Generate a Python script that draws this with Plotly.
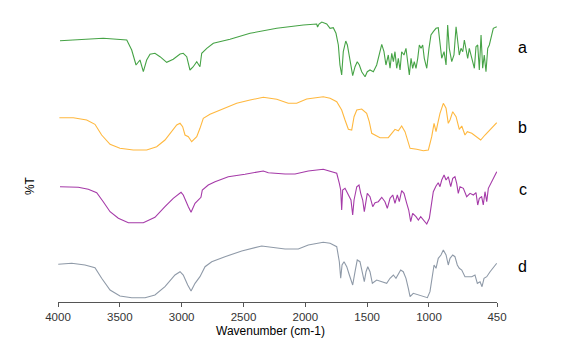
import plotly.graph_objects as go

# Wavenumbers (cm-1) and stacked %T values (arbitrary offset units)
wn_a = [3984, 3634, 3444, 3404, 3369, 3357, 3337, 3310, 3283, 3256, 3216, 3175, 3121, 3068, 3013, 2987,
        2959, 2933, 2908, 2878, 2852, 2838, 2797, 2744, 2609, 2447, 2231, 2016, 1908, 1901, 1889, 1867,
        1827, 1800, 1774, 1752, 1733, 1720, 1706, 1693, 1673, 1660, 1647, 1633, 1617, 1598, 1580, 1563,
        1544, 1517, 1499, 1477, 1450, 1423, 1402, 1382, 1364, 1348, 1329, 1315, 1301, 1288, 1275, 1261,
        1248, 1234, 1221, 1202, 1186, 1172, 1159, 1145, 1132, 1119, 1105, 1091, 1078, 1064, 1051, 1038,
        1018, 1000, 984, 965, 943, 925, 911, 897, 878, 862, 849, 836, 816, 798, 781, 768, 755, 741, 727,
        714, 701, 687, 674, 660, 646, 633, 620, 606, 593, 579, 566, 553, 539, 525, 512, 498, 480, 452]
t_a = [261.3, 263.7, 262, 252, 237, 239, 242, 230.3, 242, 247.7, 248.7, 245.3, 239.7, 242.7, 248, 248.7,
       245.3, 232, 235, 240.3, 235.3, 248.7, 253.7, 258.7, 262.7, 268.7, 273.7, 277, 278, 275, 278, 280,
       278, 273.7, 274.3, 268.7, 257, 237, 227, 250.3, 261, 257, 247, 237, 226.3, 235.3, 240.3, 237,
       230.3, 225.3, 230.3, 232, 230.3, 237, 247, 257.7, 250.3, 237, 247, 233.7, 248.7, 240.3, 250.3, 233.7,
       243.7, 232, 250.3, 247, 253.7, 240.3, 227, 243.7, 233.7, 240.3, 233.7, 243.7, 257, 253.7, 257, 243.7,
       233.7, 253.7, 267, 270.3, 273.7, 274.3, 260.3, 243.7, 250.3, 237, 277, 253.7, 240.3, 247, 275.3, 263.7, 247, 253.7, 250.3,
       262, 253.7, 243.7, 253.7, 247, 240.3, 233.7, 255.3, 257, 232, 267, 233.7, 247, 230.3, 253.7, 257, 263.7, 273.7, 275.3]

wn_b = [3989, 3876, 3768, 3701, 3647, 3579, 3499, 3391, 3283, 3202, 3135, 3081, 3040, 3013, 2992, 2973,
        2946, 2919, 2878, 2852, 2825, 2771, 2663, 2555, 2447, 2340, 2231, 2138, 2070, 1989, 1855, 1800,
        1746, 1706, 1679, 1652, 1625, 1606, 1584, 1544, 1504, 1483, 1463, 1436, 1396, 1329, 1301, 1275,
        1248, 1221, 1194, 1175, 1153, 1099, 1046, 1005, 978, 959, 943, 929, 911, 884, 862, 844, 830, 808,
        781, 755, 735, 709, 690, 654, 614, 582, 547, 506, 452]
t_b = [184.3, 184.3, 182, 177.7, 167, 157.7, 153.7, 152, 152, 155.3, 162, 170.3, 177, 178.7, 175.3, 167,
       165.3, 160.3, 165.3, 173.7, 183.7, 187.7, 193, 198.7, 202, 204.7, 202.7, 198.7, 198.7, 203, 205.3, 203.7,
       200.3, 192, 182, 172.7, 172, 185.3, 192, 193, 188.7, 180.3, 168.7, 167, 164.3, 164.3, 168.7, 172.7,
       171.3, 176, 170.3, 162, 153.7, 152.7, 151.3, 152, 165.3, 178.7, 170.3, 178.7, 188.7, 198.7, 193.7, 178.7, 182, 190.3,
       185.3, 172.7, 176, 167, 170.3, 168.7, 165.3, 162, 167, 172, 179.3]

wn_c = [3984, 3836, 3755, 3687, 3634, 3579, 3512, 3431, 3310, 3216, 3135, 3068, 3005, 2987, 2946, 2924,
        2892, 2844, 2833, 2785, 2730, 2623, 2488, 2340, 2299, 2164, 2083, 1976, 1855, 1800, 1746, 1725,
        1714, 1706, 1698, 1679, 1660, 1644, 1631, 1617, 1606, 1584, 1566, 1552, 1536, 1523, 1509, 1499,
        1477, 1455, 1436, 1410, 1382, 1356, 1337, 1315, 1293, 1275, 1256, 1240, 1221, 1202, 1180, 1164,
        1148, 1132, 1105, 1086, 1067, 1046, 1018, 997, 978, 965, 943, 925, 911, 897, 878, 862, 844, 824,
        808, 790, 776, 763, 749, 722, 695, 668, 641, 620, 606, 593, 574, 561, 547, 533, 520, 493, 452]
t_c = [115.3, 114.7, 112.7, 109.3, 100.3, 90.3, 83.7, 79.3, 79.3, 84.7, 95.3, 103.7, 109.7, 107, 95.3, 89.7,
       98.7, 104.7, 112, 117, 120.3, 125.3, 127.7, 131, 129.3, 128, 128, 131, 132.7, 130.3, 128.7, 118.7,
       112, 92, 112, 113.7, 108.7, 105.3, 102, 87, 102, 115.3, 117, 108.7, 102, 90.3, 102, 108.7,
       105.3, 95.3, 99.3, 100.3, 104.7, 100.3, 93.7, 103.7, 107, 98.7, 107, 100.3, 111.3, 108.7, 98.7, 92,
       80.3, 88.7, 85.3, 82, 85.3, 82, 78, 83.7, 98.7, 110.3, 116, 119.3, 115.3, 122, 127, 122, 125.3, 115.3,
       123.7, 125.3, 118.7, 108.7, 115.3, 113.7, 105.3, 108.7, 107, 109.3, 97, 103.7, 105.3, 97, 110.3, 100.3, 113.7, 120.3, 130.3]

wn_d = [3998, 3889, 3782, 3701, 3647, 3579, 3499, 3404, 3296, 3216, 3135, 3054, 3013, 2987, 2951, 2924,
        2892, 2852, 2811, 2757, 2650, 2514, 2353, 2299, 2164, 2057, 1976, 1855, 1800, 1746, 1725, 1714,
        1703, 1687, 1665, 1644, 1631, 1617, 1598, 1580, 1558, 1539, 1523, 1509, 1495, 1477, 1458, 1423,
        1382, 1342, 1315, 1288, 1267, 1248, 1229, 1208, 1186, 1167, 1153, 1127, 1086, 1046, 1013, 992,
        975, 959, 943, 925, 903, 884, 862, 844, 830, 808, 790, 771, 755, 735, 709, 682, 654, 628, 609,
        587, 571, 555, 533, 506, 452]
t_d = [37.7, 38.7, 37, 34.3, 23.7, 12, 6, 4.3, 4.3, 7, 15.3, 27, 30.3, 27, 17, 11,
       18.7, 25.3, 35.3, 40.3, 45.3, 51, 56, 55, 53, 53, 57, 59.7, 58.7, 55.3, 40.3, 23.7,
       37, 40.3, 35.3, 27, 22, 17, 30.3, 42, 40.3, 30.3, 20.3, 30.3, 35.3, 30.3, 18.7, 22,
       20.3, 18.7, 23.7, 27, 23.7, 28.7, 32, 30.3, 23.7, 13.7, 5.3, 8.7, 7, 5.3, 4.3, 10.3,
       23.7, 37, 33.7, 43.7, 47, 52, 47, 37, 43.7, 47, 45.3, 37, 33.7, 32, 25.3, 25.3, 25.3, 27, 18.7,
       20.3, 15.3, 23.7, 25.3, 30.3, 38.7]

labels = ["a", "b", "c", "d"]
colors = ["#46a346", "#ffb83f", "#a53aa8", "#8f9aa8"]
series = [(wn_a, t_a), (wn_b, t_b), (wn_c, t_c), (wn_d, t_d)]
tick_vals = [4000, 3500, 3000, 2500, 2000, 1500, 1000, 450]
tick_text = [str(v) for v in tick_vals]

FONT = "Liberation Sans, Arial"

fig = go.Figure()
for (x, y), name, col in zip(series, labels, colors):
    fig.add_trace(go.Scatter(x=x, y=y, mode="lines", name=name,
                             line=dict(color=col, width=1.1), showlegend=False))

label_y = [0.870, 0.599, 0.384, 0.120]
for name, yy in zip(labels, label_y):
    fig.add_annotation(text=name, x=1.059, y=yy, xref="paper", yref="paper",
                       xanchor="center", yanchor="middle",
                       showarrow=False, font=dict(family=FONT, size=16, color="#000"))

fig.add_annotation(text="%T", x=-0.064, y=0.40, xref="paper", yref="paper", textangle=-90,
                   xanchor="center", yanchor="middle",
                   showarrow=False, font=dict(family=FONT, size=12, color="#000"))
fig.add_annotation(text="Wavenumber (cm-1)", x=0.483, y=-0.10, xref="paper", yref="paper",
                   xanchor="center", yanchor="middle",
                   showarrow=False, font=dict(family=FONT, size=12, color="#000"))

fig.update_layout(
    width=565, height=354,
    margin=dict(l=58, r=68, t=10, b=52),
    paper_bgcolor="white", plot_bgcolor="white",
    xaxis=dict(range=[4000, 450], tickvals=tick_vals, ticktext=tick_text,
               showgrid=False, zeroline=False, showline=True, linecolor="#555", linewidth=1,
               ticks="outside", ticklen=4, tickcolor="#555",
               tickfont=dict(family=FONT, size=11.5, color="#333")),
    yaxis=dict(range=[0, 292], visible=False),
)

fig.write_html("out.html")
